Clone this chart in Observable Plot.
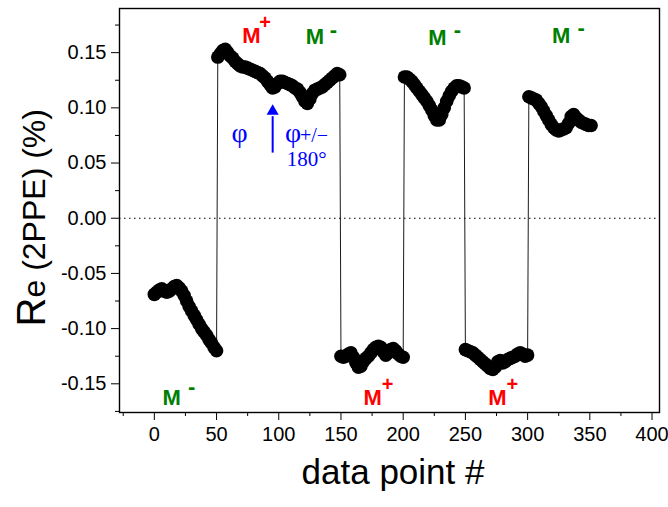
<!DOCTYPE html>
<html>
<head>
<meta charset="utf-8">
<script src="https://cdn.jsdelivr.net/npm/d3@7"></script>
<script src="https://cdn.jsdelivr.net/npm/@observablehq/plot@0.6"></script>
<style>
  html, body { margin: 0; padding: 0; background: #fff; }
  #chart { width: 668px; height: 507px; }
</style>
</head>
<body>
<div id="chart"></div>
<script>
// ---- data ----
const seg1X = [0,2,4,6,8,10,12,14,16,18,20,22,24,26,28,30,32,34,36,38,40,42,44,46,48,50];
const seg1Y = [-0.069,-0.067,-0.065,-0.064,-0.066,-0.067,-0.066,-0.064,-0.062,-0.061,-0.063,-0.066,-0.070,-0.075,-0.080,-0.084,-0.088,-0.092,-0.096,-0.100,-0.103,-0.106,-0.110,-0.113,-0.117,-0.120];

const seg2X = [51,53,55,57,59,61,63,65,67,69,71,73,75,77,79,81,83,85,87,89,91,93,95,97,99,101,103,105,107,109,111,113,115,117,119,121,123,125,127,129,131,133,135,137,139,141,143,145,147,149];
const seg2Y = [0.146,0.149,0.152,0.153,0.150,0.147,0.145,0.142,0.140,0.138,0.137,0.137,0.136,0.135,0.134,0.133,0.132,0.131,0.129,0.127,0.124,0.121,0.118,0.119,0.122,0.124,0.124,0.123,0.122,0.121,0.120,0.118,0.117,0.114,0.110,0.106,0.104,0.108,0.113,0.116,0.117,0.118,0.119,0.121,0.123,0.125,0.127,0.129,0.131,0.130];

const seg3X = [150,152,154,156,158,160,162,164,166,168,170,172,174,176,178,180,182,184,186,188,190,192,194,196,198,200];
const seg3Y = [-0.125,-0.126,-0.125,-0.123,-0.122,-0.126,-0.131,-0.135,-0.134,-0.130,-0.127,-0.125,-0.122,-0.119,-0.117,-0.116,-0.117,-0.121,-0.124,-0.122,-0.119,-0.118,-0.120,-0.123,-0.125,-0.126];

const seg4X = [201,203,205,207,209,211,213,215,217,219,221,223,225,227,229,231,233,235,237,239,241,243,245,247,249];
const seg4Y = [0.128,0.128,0.126,0.124,0.121,0.118,0.115,0.112,0.109,0.106,0.102,0.098,0.093,0.089,0.089,0.094,0.100,0.106,0.111,0.115,0.118,0.120,0.120,0.119,0.118];

const seg5X = [250,252,254,256,258,260,262,264,266,268,270,272,274,276,278,280,282,284,286,288,290,292,294,296,298,300];
const seg5Y = [-0.119,-0.120,-0.121,-0.122,-0.124,-0.126,-0.128,-0.130,-0.132,-0.134,-0.136,-0.137,-0.135,-0.130,-0.129,-0.131,-0.130,-0.128,-0.127,-0.126,-0.125,-0.123,-0.122,-0.123,-0.125,-0.124];

const seg6X = [301,303,305,307,309,311,313,315,317,319,321,323,325,327,329,331,333,335,337,339,341,343,345,347,349,351];
const seg6Y = [0.110,0.109,0.108,0.107,0.104,0.101,0.097,0.093,0.089,0.085,0.082,0.080,0.079,0.080,0.081,0.082,0.086,0.092,0.094,0.091,0.089,0.087,0.086,0.085,0.084,0.084];

// axis ticks
const xTicks = [0,50,100,150,200,250,300,350,400];
const xMinor = [-25,25,75,125,175,225,275,325,375];
const yTicks = [-0.15,-0.10,-0.05,0,0.05,0.10,0.15];
const yMinor = [-0.175,-0.125,-0.075,-0.025,0.025,0.075,0.125,0.175];

// annotations
const redM = [{x: 78, y: 0.165}, {x: 175.4, y: -0.163}, {x: 275.7, y: -0.163}];
const redPlus = [{x: 89, y: 0.177}, {x: 187.5, y: -0.151}, {x: 287.8, y: -0.151}];
const greenM = [{x: 129, y: 0.164}, {x: 227.5, y: 0.163}, {x: 327, y: 0.165}, {x: 14, y: -0.163}];
const greenMinus = [{x: 144, y: 0.171}, {x: 243.5, y: 0.171}, {x: 343, y: 0.172}, {x: 30, y: -0.153}];

// ---- build ----
const segments = [[seg1X, seg1Y],[seg2X, seg2Y],[seg3X, seg3Y],[seg4X, seg4Y],[seg5X, seg5Y],[seg6X, seg6Y]];
const data = segments.flatMap(([xs, ys]) => xs.map((x, i) => ({x, y: ys[i]})));

const font = "'Liberation Sans', Arial, sans-serif";
const serif = "'Liberation Serif', 'Times New Roman', serif";

const plot = Plot.plot({
  width: 668,
  height: 507,
  marginLeft: 119,
  marginRight: 9,
  marginTop: 8,
  marginBottom: 95,
  style: {fontFamily: font, background: "#fff", color: "#000"},
  x: {domain: [-28, 406]},
  y: {domain: [-0.176, 0.19]},
  marks: [
    Plot.ruleY([0], {stroke: "#000", strokeWidth: 1.2, strokeDasharray: "1.5 3.5"}),
    Plot.line(data, {x: "x", y: "y", stroke: "#000", strokeWidth: 0.9}),
    Plot.dot(data, {x: "x", y: "y", r: 6.8, fill: "#000", stroke: "none"}),
    Plot.frame({stroke: "#000", strokeWidth: 1.4}),
    Plot.axisY(yTicks, {tickSize: 8, tickPadding: 5, fontSize: 20, tickFormat: d => d.toFixed(2), label: null}),
    Plot.axisY(yMinor, {tickSize: 4, tickFormat: () => "", label: null}),
    Plot.axisX(xTicks, {tickSize: 8, tickPadding: 6, fontSize: 20, tickFormat: d => String(d), label: null}),
    Plot.axisX(xMinor, {tickSize: 4, tickFormat: () => "", label: null}),
    // M labels
    Plot.text(redM, {x: "x", y: "y", text: () => "M", fill: "#ff0000", fontSize: 22, fontWeight: "bold"}),
    Plot.text(redPlus, {x: "x", y: "y", text: () => "+", fill: "#ff0000", fontSize: 20, fontWeight: "bold"}),
    Plot.text(greenM, {x: "x", y: "y", text: () => "M", fill: "#008000", fontSize: 22, fontWeight: "bold"}),
    Plot.text(greenMinus, {x: "x", y: "y", text: () => "-", fill: "#008000", fontSize: 22, fontWeight: "bold"}),
    // phase annotation
    Plot.text([{x: 68.6, y: 0.077}], {x: "x", y: "y", text: () => "φ", fill: "#0000ff", fontSize: 28, fontFamily: serif}),
    Plot.ruleX([{x: 95.1, y1: 0.059, y2: 0.092}], {x: "x", y1: "y1", y2: "y2", stroke: "#0000ff", strokeWidth: 2}),
    Plot.dot([{x: 95.1, y: 0.097}], {x: "x", y: "y", symbol: "triangle", r: 4.5, fill: "#0000ff", stroke: "none"}),
    Plot.text([{x: 105, y: 0.077}], {x: "x", y: "y", text: () => "φ", fill: "#0000ff", fontSize: 28, fontFamily: serif, textAnchor: "start"}),
    Plot.text([{x: 117, y: 0.0745}], {x: "x", y: "y", text: () => "+/−", fill: "#0000ff", fontSize: 20, fontFamily: serif, textAnchor: "start"}),
    Plot.text([{x: 106.5, y: 0.053}], {x: "x", y: "y", text: () => "180°", fill: "#0000ff", fontSize: 21, fontFamily: serif, textAnchor: "start"})
  ]
});

// axis titles
const svg = d3.select(plot);
const xs = plot.scale("x"), ys = plot.scale("y");
const cx = (xs.range[0] + xs.range[1]) / 2;
const cy = ys.apply(0);
svg.append("text")
  .attr("transform", `translate(${cx + 4},484)`)
  .attr("text-anchor", "middle")
  .attr("font-family", font)
  .attr("font-size", 35)
  .attr("fill", "#000")
  .text("data point #");
const yl = svg.append("text")
  .attr("transform", `translate(45,${cy}) rotate(-90)`)
  .attr("text-anchor", "middle")
  .attr("font-family", font)
  .attr("font-size", 32)
  .attr("fill", "#000");
yl.append("tspan").attr("font-size", 40).text("R");
yl.append("tspan").text("e (2PPE) (%)");

document.getElementById("chart").appendChild(plot);
</script>
</body>
</html>
